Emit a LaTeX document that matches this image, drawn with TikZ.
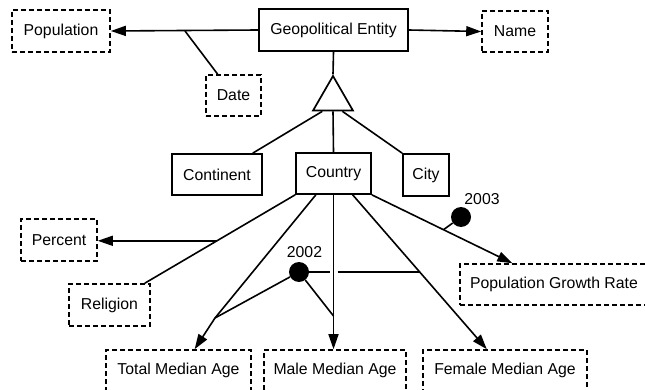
\documentclass[tikz,border=0pt]{standalone}
\usepackage{fontspec}
\setmainfont{Liberation Sans}
\usepackage{tikz}
\usetikzlibrary{arrows.meta, calc, shapes.geometric}
\newcommand{\labelFont}{\fontsize{15.8}{18}\selectfont}
\tikzstyle{diagram} = [x = 1pt, y = -1pt, font = \labelFont]
\tikzstyle{entityStyle} = [draw, line width = 1.7pt, inner sep = 0pt]
\tikzstyle{attributeStyle} = [entityStyle, line width = 1.6pt, dash pattern = on 5pt off 3pt]
\tikzstyle{linkLine} = [line width = 1.6pt]
\tikzstyle{arrowLine} = [linkLine, -{Triangle[length = 15pt, width = 10pt]}]
\tikzstyle{timeDot} = [circle, fill = black, minimum size = 20pt, inner sep = 0pt]
\newcommand{\entityBox}[6]{\node [entityStyle, minimum width = #4pt, minimum height = #5pt] (#1) at (#2, #3) {#6};}
\newcommand{\attributeBox}[6]{\node [attributeStyle, minimum width = #4pt, minimum height = #5pt] (#1) at (#2, #3) {#6};}

\begin{document}
\begin{tikzpicture}[diagram]
  \useasboundingbox (0,0) rectangle (645,390);
  \clip (0,0) rectangle (645,390);

  % entities
  \entityBox{geo}{333.5}{30}{149}{42}{Geopolitical Entity}
  \entityBox{continent}{217}{174.5}{90}{41}{Continent}
  \entityBox{country}{333.5}{173.5}{75}{41}{Country}
  \entityBox{city}{426}{175}{46}{42}{City}
  \node [draw, line width = 1.7pt, regular polygon, regular polygon sides = 3,
         minimum size = 46pt, inner sep = 0pt] (isa) at (333,99) {};

  % attributes
  \attributeBox{population}{61}{31}{98}{42}{Population}
  \attributeBox{date}{233.5}{95.5}{55}{41}{Date}
  \attributeBox{name}{515}{31.5}{66}{41}{Name}
  \attributeBox{percent}{59}{240}{76}{42}{Percent}
  \attributeBox{religion}{109.5}{305}{81}{42}{Religion}
  \attributeBox{growth}{554}{284.5}{188}{41}{Population Growth Rate}
  \attributeBox{total}{178.5}{370.5}{145}{41}{Total Median Age}
  \attributeBox{male}{335}{370.5}{142}{41}{Male Median Age}
  \attributeBox{female}{505}{370.5}{164}{41}{Female Median Age}

  % geopolitical entity
  \draw [arrowLine] (geo.west) -- (population.east);
  \draw [arrowLine] (geo.east) -- (name.west);
  \coordinate (dateSplit) at (185,31);
  \draw [linkLine] (dateSplit) -- ($(date.north west)!0.22!(date.north east)$);
  \draw [linkLine] (geo.south) -- (isa.corner 1);
  \draw [linkLine] ($(isa.corner 2)!0.25!(isa.corner 3)$) -- ($(continent.north west)!0.89!(continent.north east)$);
  \draw [linkLine] ($(isa.corner 2)!0.5!(isa.corner 3)$) -- (country.north);
  \draw [linkLine] ($(isa.corner 2)!0.72!(isa.corner 3)$) -- (city.north west);

  % country
  \coordinate (religionEnd) at ($(religion.north east) + (-6,0)$);
  \draw [linkLine] (country.south west) -- (religionEnd);
  \coordinate (percentSplit) at ($(country.south west)!0.52!(religionEnd)$);
  \draw [arrowLine] (percentSplit) -- (percentSplit -| percent.east);
  \coordinate (totalKink) at (215,318);
  \draw [arrowLine] ($(country.south west)!0.27!(country.south east)$) -- (totalKink)
    -- ($(total.north west)!0.61!(total.north east)$);
  \draw [arrowLine] (country.south) -- (country.south |- male.north);
  \coordinate (femaleStart) at ($(country.south west)!0.75!(country.south east)$);
  \coordinate (femaleEnd) at ($(female.north west)!0.39!(female.north east)$);
  \draw [arrowLine] (femaleStart) -- (femaleEnd);
  \coordinate (growthEnd) at ($(growth.north west)!0.28!(growth.north east)$);
  \draw [arrowLine] (country.south east) -- (growthEnd);

  % time stamps
  \node [timeDot] (dot2002) at (299,272) {};
  \node (year2002) at (304.5,252.5) {2002};
  \coordinate (maleJoin) at (country.south |- 0,316);
  \coordinate (femaleJoin) at ($(femaleStart)!0.5!(femaleEnd)$);
  \draw [linkLine] (dot2002) -- (totalKink);
  \draw [linkLine] (dot2002) -- (maleJoin);
  \draw [linkLine] (dot2002) -- ($(dot2002 -| country.south) + (-4,0)$);
  \draw [linkLine] ($(dot2002 -| country.south) + (4,0)$) -- (dot2002 -| femaleJoin);

  \node [timeDot] (dot2003) at (461,217) {};
  \node (year2003) at (482,199) {2003};
  \draw [linkLine] (dot2003) -- ($(country.south east)!0.51!(growthEnd)$);
\end{tikzpicture}
\end{document}
